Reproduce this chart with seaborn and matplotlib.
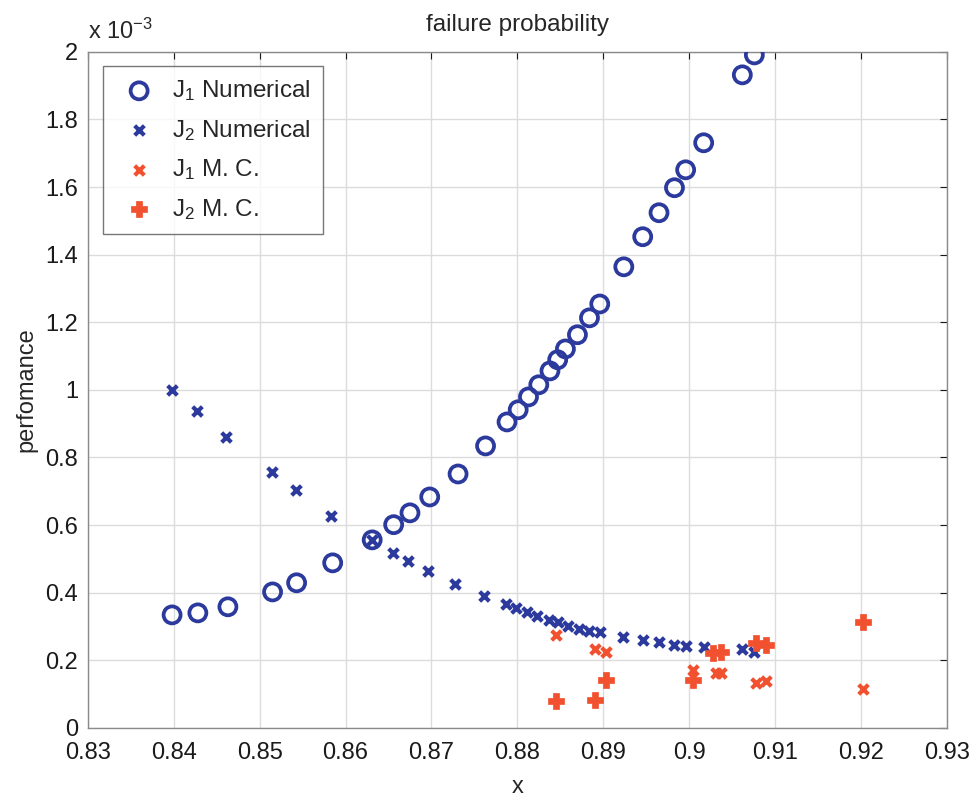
import numpy as np
import pandas as pd
import matplotlib
matplotlib.use("Agg")
import matplotlib.pyplot as plt
import seaborn as sns

# Failure probability (units of 1e-3) against x
j1_num_x = [0.8398, 0.8428, 0.8463, 0.8515, 0.8543, 0.8585, 0.8631, 0.8656, 0.8675,
            0.8698, 0.8731, 0.8763, 0.8788, 0.8801, 0.8813, 0.8825, 0.8838, 0.8847,
            0.8856, 0.8870, 0.8884, 0.8896, 0.8924, 0.8946, 0.8965, 0.8983, 0.8996,
            0.9017, 0.9062, 0.9076]
j1_num_y = [0.334, 0.340, 0.358, 0.402, 0.429, 0.488, 0.556, 0.601, 0.636,
            0.683, 0.751, 0.834, 0.905, 0.941, 0.979, 1.015, 1.056, 1.089,
            1.121, 1.163, 1.213, 1.254, 1.364, 1.453, 1.524, 1.598, 1.651,
            1.731, 1.932, 1.991]

j2_num_x = [0.8398, 0.8427, 0.8461, 0.8514, 0.8542, 0.8583, 0.8631, 0.8655, 0.8673,
            0.8696, 0.8728, 0.8761, 0.8787, 0.8799, 0.8811, 0.8823, 0.8837, 0.8847,
            0.8859, 0.8872, 0.8884, 0.8896, 0.8923, 0.8946, 0.8965, 0.8982, 0.8996,
            0.9017, 0.9062, 0.9076]
j2_num_y = [1.000, 0.938, 0.861, 0.757, 0.704, 0.627, 0.556, 0.518, 0.494,
            0.464, 0.426, 0.391, 0.367, 0.355, 0.343, 0.331, 0.320, 0.314,
            0.302, 0.293, 0.287, 0.284, 0.269, 0.260, 0.254, 0.246, 0.243,
            0.240, 0.234, 0.225]

j1_mc_x = [0.8845, 0.8891, 0.8903, 0.9004, 0.9031, 0.9037, 0.9078, 0.9090, 0.9202]
j1_mc_y = [0.275, 0.234, 0.225, 0.170, 0.163, 0.163, 0.133, 0.139, 0.115]

j2_mc_x = [0.8845, 0.8891, 0.8903, 0.9004, 0.9028, 0.9037, 0.9078, 0.9090, 0.9202]
j2_mc_y = [0.080, 0.083, 0.142, 0.140, 0.222, 0.225, 0.251, 0.246, 0.314]

x_ticks = [0.83, 0.84, 0.85, 0.86, 0.87, 0.88, 0.89, 0.90, 0.91, 0.92, 0.93]
y_ticks = [0, 0.2, 0.4, 0.6, 0.8, 1.0, 1.2, 1.4, 1.6, 1.8, 2.0]

series_labels = ["J$_1$ Numerical", "J$_2$ Numerical", "J$_1$ M. C.", "J$_2$ M. C."]

blue = "#2b3a9c"
red = "#f2512f"

sns.set_style("white")
plt.rcParams["font.family"] = ["Liberation Sans", "DejaVu Sans"]
plt.rcParams["mathtext.fontset"] = "custom"
plt.rcParams["mathtext.rm"] = "Liberation Sans"
plt.rcParams["mathtext.it"] = "Liberation Sans"

fig = plt.figure(figsize=(9.77, 7.98), dpi=100)
ax = fig.add_axes([0.090, 0.088, 0.879, 0.847])

sns.scatterplot(x=j1_num_x, y=j1_num_y, ax=ax, marker="o", s=150,
                facecolors="none", edgecolor=blue, linewidth=2.7, zorder=3)
sns.scatterplot(x=j2_num_x, y=j2_num_y, ax=ax, marker="x", s=48,
                color=blue, linewidth=3.0, zorder=4)
sns.scatterplot(x=j1_mc_x, y=j1_mc_y, ax=ax, marker="x", s=48,
                color=red, linewidth=3.0, zorder=5)
sns.scatterplot(x=j2_mc_x, y=j2_mc_y, ax=ax, marker="P", s=140,
                color=red, edgecolor=red, linewidth=0.5, zorder=6)

ax.set_xlim(0.83, 0.93)
ax.set_ylim(0, 2.0)
ax.set_xticks(x_ticks)
ax.set_yticks(y_ticks)
ax.set_xticklabels([f"{v:g}" for v in x_ticks])
ax.set_yticklabels([f"{v:g}" for v in y_ticks])
ax.tick_params(direction="in", length=5, width=0.8, labelsize=17, colors="#1a1a1a",
               top=True, right=True)
ax.tick_params(axis="x", pad=10)
ax.tick_params(axis="y", pad=7)
ax.grid(True, color="#dcdcdc", linewidth=1.0)
for sp in ax.spines.values():
    sp.set_color("#8a8a8a")
    sp.set_linewidth(1.0)

ax.set_xlabel("x", fontsize=17, labelpad=9)
ax.set_ylabel("perfomance", fontsize=17, labelpad=6)
ax.set_title("failure probability", fontsize=17.5, pad=15)
ax.text(0.0, 1.012, r"x 10$^{-3}$", transform=ax.transAxes, fontsize=17,
        ha="left", va="bottom")

handles = ax.collections[:4]
leg = ax.legend(handles, series_labels, loc="upper left", fontsize=17.5,
                frameon=True, fancybox=False, edgecolor="#555555",
                borderaxespad=0.5, handletextpad=0.35, labelspacing=0.6,
                borderpad=0.5, bbox_to_anchor=(0.003, 0.997))
leg.get_frame().set_linewidth(1.0)

fig.savefig("out.png", dpi=100, facecolor="white")
